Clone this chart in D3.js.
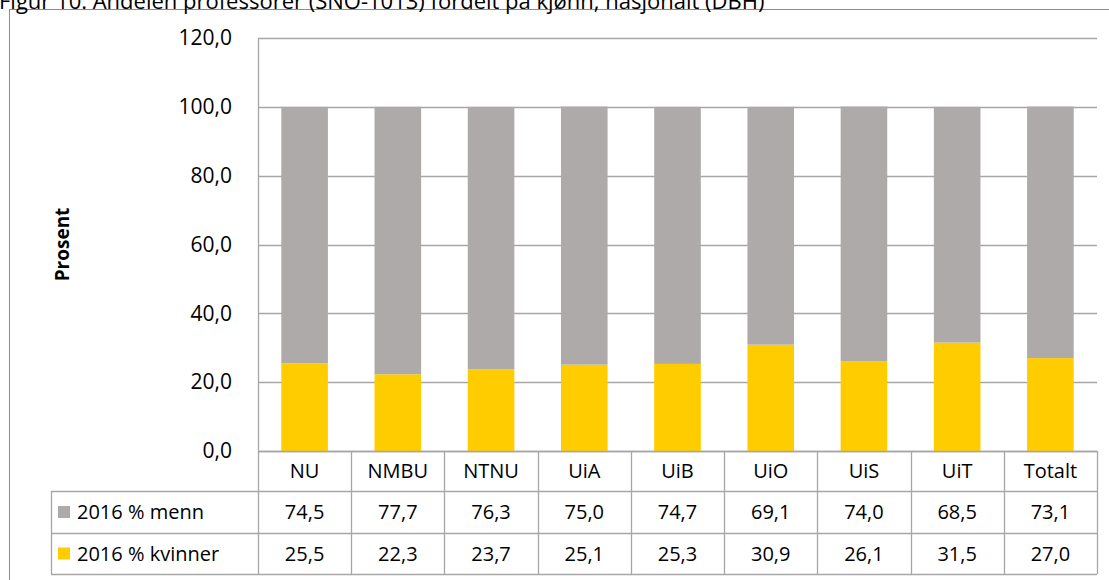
<!DOCTYPE html>
<html>
<head>
<meta charset="utf-8">
<script src="https://cdn.jsdelivr.net/npm/d3@7"></script>
<style>
  body { margin: 0; background: #fff; }
  svg { display: block; }
  text { font-family: "Open Sans", "Noto Sans", sans-serif; fill: #000; }
</style>
</head>
<body>
<script>
const categories = ['NU', 'NMBU', 'NTNU', 'UiA', 'UiB', 'UiO', 'UiS', 'UiT', 'Totalt'];
const kvinner = [25.5, 22.3, 23.7, 25.1, 25.3, 30.9, 26.1, 31.5, 27.0];
const menn = [74.5, 77.7, 76.3, 75.0, 74.7, 69.1, 74.0, 68.5, 73.1];
const seriesNames = ['2016 % menn', '2016 % kvinner'];
const yTicks = [0, 20, 40, 60, 80, 100, 120];
const title = 'Figur 10: Andelen professorer (SNO-1013) fordelt på kjønn, nasjonalt (DBH)';

const width = 1109, height = 580;
const colors = { menn: '#aeaaaa', kvinner: '#ffcc00' };
const gridColor = '#a6a6a6';
const fmt = v => d3.format('.1f')(v).replace('.', ',');

const svg = d3.select('body').append('svg')
    .attr('width', width)
    .attr('height', height);

// plot area
const plot = { left: 258, right: 1097, top: 38, bottom: 451 };
const rowH = [40, 42, 41]; // category row, menn row, kvinner row
const legendLeft = 51;

// outer chart border
svg.append('rect')
    .attr('x', 9.5).attr('y', 9.5)
    .attr('width', width + 20).attr('height', height + 20)
    .attr('fill', 'none')
    .attr('stroke', '#8c8c8c');

// title (cut off at top, as in the source)
svg.append('text')
    .attr('x', -1)
    .attr('y', 9)
    .style('font-size', '22px')
    .text(title);

let x = d3.scaleBand()
    .domain(categories)
    .range([plot.left, plot.right])
    .paddingInner(0.5)
    .paddingOuter(0.25);

let y = d3.scaleLinear()
    .domain([0, 120])
    .range([plot.bottom, plot.top]);

// gridlines
svg.append('g')
    .selectAll('line')
    .data(yTicks)
    .enter().append('line')
    .attr('x1', plot.left)
    .attr('x2', plot.right)
    .attr('y1', d => Math.round(y(d)) + 0.5)
    .attr('y2', d => Math.round(y(d)) + 0.5)
    .attr('stroke', gridColor)
    .attr('stroke-width', 1.3);

// y axis labels
let yAxis = svg.append('g')
    .attr('transform', 'translate(' + plot.left + ',0)')
    .call(d3.axisLeft(y).tickValues(yTicks).tickFormat(fmt).tickSize(0).tickPadding(26));
yAxis.select('.domain').remove();
yAxis.selectAll('text')
    .style('font-size', '21px')
    .style('font-family', '"Open Sans", sans-serif')
    .attr('fill', '#000');

svg.append('line')
    .attr('x1', plot.left + 0.5).attr('x2', plot.left + 0.5)
    .attr('y1', plot.top).attr('y2', plot.bottom)
    .attr('stroke', gridColor).attr('stroke-width', 1.3);

// stacked bars
let stackData = categories.map((c, i) => ({ cat: c, kvinner: kvinner[i], menn: menn[i] }));
let stacked = d3.stack().keys(['kvinner', 'menn'])(stackData);

svg.append('g')
    .selectAll('g')
    .data(stacked)
    .enter().append('g')
    .attr('fill', d => colors[d.key])
    .selectAll('rect')
    .data(d => d)
    .enter().append('rect')
    .attr('x', d => x(d.data.cat))
    .attr('y', d => y(d[1]))
    .attr('width', x.bandwidth())
    .attr('height', d => y(d[0]) - y(d[1]));

// data table
const step = x.step();
const colLeft = c => x(c) - step * 0.25;
const rowTop = [plot.bottom, plot.bottom + rowH[0], plot.bottom + rowH[0] + rowH[1]];
const tableBottom = rowTop[2] + rowH[2];
const table = svg.append('g')
    .attr('stroke', gridColor)
    .attr('stroke-width', 1.3);

// horizontal lines
table.append('line')
    .attr('x1', plot.left).attr('x2', plot.right)
    .attr('y1', plot.bottom + 0.5).attr('y2', plot.bottom + 0.5);
[rowTop[1], rowTop[2], tableBottom].forEach(yy => {
    table.append('line')
        .attr('x1', legendLeft).attr('x2', plot.right)
        .attr('y1', yy + 0.5).attr('y2', yy + 0.5);
});
// vertical lines
table.append('line')
    .attr('x1', legendLeft + 0.5).attr('x2', legendLeft + 0.5)
    .attr('y1', rowTop[1]).attr('y2', tableBottom);
categories.forEach(c => {
    let xx = Math.round(colLeft(c)) + 0.5;
    table.append('line')
        .attr('x1', xx).attr('x2', xx)
        .attr('y1', plot.bottom).attr('y2', tableBottom);
});
table.append('line')
    .attr('x1', plot.right + 0.5).attr('x2', plot.right + 0.5)
    .attr('y1', plot.bottom).attr('y2', tableBottom);

// category labels
svg.append('g')
    .selectAll('text')
    .data(categories)
    .enter().append('text')
    .attr('x', d => x(d) + x.bandwidth() / 2)
    .attr('y', rowTop[0] + rowH[0] / 2)
    .attr('dy', '0.35em')
    .attr('text-anchor', 'middle')
    .style('font-size', '20px')
    .text(d => d);

// value rows
[menn, kvinner].forEach((vals, r) => {
    let cy = rowTop[r + 1] + rowH[r + 1] / 2;
    svg.append('g')
        .selectAll('text')
        .data(vals)
        .enter().append('text')
        .attr('x', (d, i) => x(categories[i]) + x.bandwidth() / 2)
        .attr('y', cy)
        .attr('dy', '0.35em')
        .attr('text-anchor', 'middle')
        .style('font-size', '20px')
        .text(d => fmt(d));

    svg.append('rect')
        .attr('x', legendLeft + 7)
        .attr('y', cy - 6)
        .attr('width', 12).attr('height', 12)
        .attr('fill', r === 0 ? colors.menn : colors.kvinner);

    svg.append('text')
        .attr('x', legendLeft + 26)
        .attr('y', cy)
        .attr('dy', '0.35em')
        .style('font-size', '20px')
        .text(seriesNames[r]);
});

// y axis title
svg.append('text')
    .attr('transform', 'translate(69,' + ((plot.top + plot.bottom) / 2) + ') rotate(-90)')
    .attr('text-anchor', 'middle')
    .style('font-size', '19px')
    .style('font-weight', 'bold')
    .text('Prosent');
</script>
</body>
</html>
